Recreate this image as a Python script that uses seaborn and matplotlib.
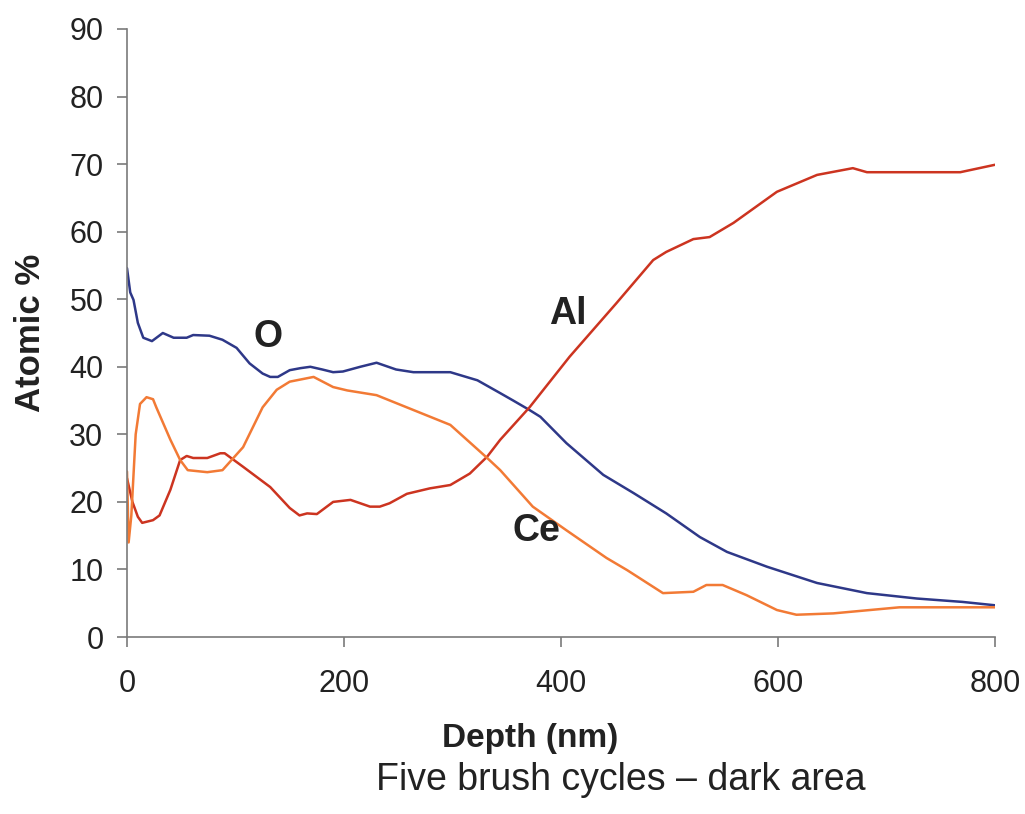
import matplotlib
matplotlib.use("Agg")
import matplotlib.pyplot as plt
import seaborn as sns
import pandas as pd

# Depth profile (nm) and atomic concentration (%) for each element
o_depth = [0, 3, 6, 10, 15, 23, 33, 43, 55, 61, 76, 88, 101, 113, 125, 132, 139, 150, 160,
           169, 180, 190, 199, 215, 230, 248, 264, 298, 323, 344, 356, 371, 381, 405, 439,
           467, 497, 528, 553, 590, 636, 682, 728, 770, 800]
o_pct = [54.6, 51, 49.9, 46.5, 44.3, 43.8, 45, 44.3, 44.3, 44.7, 44.6, 44, 42.8, 40.5, 39,
         38.5, 38.5, 39.5, 39.8, 40, 39.6, 39.2, 39.3, 40, 40.6, 39.6, 39.2, 39.2, 38, 36.1,
         35, 33.6, 32.6, 28.7, 24, 21.3, 18.3, 14.8, 12.6, 10.4, 8, 6.5, 5.7, 5.2, 4.7]

al_depth = [0, 5, 10, 14, 24, 30, 40, 49, 55, 61, 74, 86, 90, 107, 132, 150, 159, 166, 175,
            190, 206, 224, 233, 242, 258, 279, 298, 316, 332, 344, 371, 408, 451, 485, 497,
            522, 537, 559, 599, 636, 669, 682, 768, 800]
al_pct = [23.5, 20, 17.8, 16.9, 17.3, 18, 21.8, 26.2, 26.8, 26.5, 26.5, 27.2, 27.2, 25.2,
          22.2, 19.1, 18, 18.3, 18.2, 20, 20.3, 19.3, 19.3, 19.8, 21.2, 22, 22.5, 24.2, 26.7,
          29.2, 34, 41.5, 49.4, 55.8, 57, 58.9, 59.2, 61.3, 65.9, 68.4, 69.4, 68.8, 68.8, 69.9]

ce_depth = [0, 1.5, 4, 8, 12, 18, 24, 27, 40, 49, 56, 74, 88, 107, 125, 138, 150, 172, 190,
            203, 230, 264, 298, 332, 344, 374, 405, 442, 461, 494, 522, 534, 549, 571, 599,
            617, 651, 712, 800]
ce_pct = [24.5, 14, 18, 30, 34.5, 35.5, 35.2, 34, 29.2, 26.2, 24.7, 24.4, 24.7, 28.1, 34,
          36.6, 37.8, 38.5, 37, 36.5, 35.8, 33.6, 31.4, 26.5, 24.7, 19.3, 15.8, 11.7, 9.9,
          6.5, 6.7, 7.7, 7.7, 6.2, 4, 3.3, 3.5, 4.4, 4.4]

elements = ["O", "Al", "Ce"]
label_pos = {"O": (130, 44.4), "Al": (406, 47.8), "Ce": (377, 15.7)}
colors = {"O": "#2e3888", "Al": "#cc3420", "Ce": "#f27a35"}

frames = []
for el, d, v in zip(elements, [o_depth, al_depth, ce_depth], [o_pct, al_pct, ce_pct]):
    frames.append(pd.DataFrame({"Depth": d, "Atomic": v, "Element": el}))
df = pd.concat(frames, ignore_index=True)

sns.set_style("ticks")
plt.rcParams["font.family"] = ["Liberation Sans", "DejaVu Sans"]

fig = plt.figure(figsize=(10.25, 8.14), dpi=100)
ax = fig.add_axes([0.1239, 0.2174, 0.8468, 0.7470])

sns.lineplot(data=df, x="Depth", y="Atomic", hue="Element", palette=colors,
             estimator=None, sort=False, linewidth=1.8, legend=False, ax=ax)

for el in elements:
    x, y = label_pos[el]
    ax.text(x, y, el, fontsize=27, fontweight="bold", color="#222222",
            ha="center", va="center")

ax.set_xlim(0, 800)
ax.set_ylim(0, 90)
ax.set_xticks([0, 200, 400, 600, 800])
ax.set_yticks(range(0, 91, 10))
for s in ["top", "right"]:
    ax.spines[s].set_visible(False)
for s in ["left", "bottom"]:
    ax.spines[s].set_color("#7a7a7a")
    ax.spines[s].set_linewidth(1.2)
ax.tick_params(axis="both", direction="out", length=7, width=1.2, color="#7a7a7a",
               labelsize=22, labelcolor="#222222")
ax.tick_params(axis="x", pad=16)
ax.tick_params(axis="y", pad=10)

ax.set_xlabel("")
ax.set_ylabel("Atomic %", fontsize=25, fontweight="bold", color="#222222", labelpad=16)

fig.text(0.517, 0.093, "Depth (nm)", fontsize=24, fontweight="bold", color="#222222",
         ha="center", va="center")
fig.text(0.606, 0.042, "Five brush cycles \u2013 dark area", fontsize=27, color="#222222",
         ha="center", va="center")

fig.savefig("out.png", dpi=100, facecolor="white")
